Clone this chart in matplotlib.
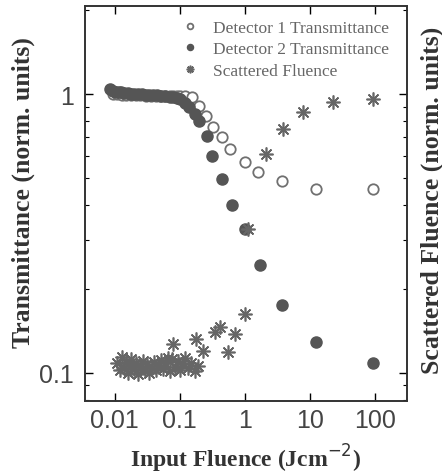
import numpy as np
import matplotlib
matplotlib.use('Agg')
import matplotlib.pyplot as plt

# Detector 1 transmittance (open circles)
det1_x = [0.0095, 0.011, 0.013, 0.015, 0.018, 0.021, 0.025, 0.03, 0.036, 0.043, 0.05,
          0.06, 0.07, 0.08, 0.09, 0.1, 0.12, 0.153, 0.196, 0.251, 0.32, 0.44, 0.59, 1.0,
          1.58, 3.7, 12.6, 93]
det1_y = [1.0, 1.0, 0.995, 0.995, 0.99, 0.99, 0.99, 0.985, 0.985, 0.985, 0.985,
          0.985, 0.985, 0.985, 0.985, 0.985, 0.985, 0.976, 0.906, 0.834, 0.762, 0.70, 0.635, 0.57,
          0.525, 0.488, 0.457, 0.457]

# Detector 2 transmittance (filled circles)
det2_x = [0.0085, 0.0095, 0.0105, 0.0115, 0.0125, 0.014, 0.016, 0.018, 0.02, 0.023,
          0.026, 0.03, 0.034, 0.039, 0.045, 0.052, 0.06, 0.07, 0.08, 0.09, 0.1, 0.12,
          0.14, 0.17, 0.2, 0.26, 0.31, 0.44, 0.63, 1.0, 1.7, 3.7, 12.6, 93]
det2_y = [1.04, 1.03, 1.02, 1.02, 1.015, 1.01, 1.01, 1.005, 1.0, 1.0,
          1.0, 0.995, 0.995, 0.99, 0.99, 0.985, 0.985, 0.98, 0.975, 0.97, 0.96, 0.93,
          0.9, 0.85, 0.8, 0.707, 0.60, 0.496, 0.40, 0.328, 0.244, 0.175, 0.129, 0.108]

# Scattered fluence (asterisks)
scat_x = [0.011, 0.012, 0.013, 0.014, 0.015, 0.016, 0.017, 0.018, 0.02, 0.021, 0.023,
          0.025, 0.027, 0.029, 0.031, 0.034, 0.037, 0.04, 0.043, 0.047, 0.051, 0.055,
          0.06, 0.065, 0.07, 0.077, 0.085, 0.093, 0.1, 0.11, 0.12, 0.135, 0.15, 0.17,
          0.19, 0.078, 0.18, 0.23, 0.35, 0.41, 0.55, 0.70, 1.0, 1.11, 2.1, 3.85, 7.8,
          22.6, 93]
scat_y = [0.108, 0.102, 0.114, 0.104, 0.109, 0.100, 0.106, 0.112, 0.103, 0.108, 0.099,
          0.105, 0.110, 0.102, 0.107, 0.100, 0.104, 0.109, 0.102, 0.106, 0.111, 0.103,
          0.108, 0.113, 0.101, 0.112, 0.105, 0.110, 0.102, 0.107, 0.113, 0.104, 0.108,
          0.101, 0.106, 0.127, 0.132, 0.12, 0.14, 0.146, 0.119, 0.138, 0.163, 0.328,
          0.61, 0.75, 0.86, 0.936, 0.96]

fig = plt.figure(figsize=(4.42, 4.77), dpi=100)
ax = fig.add_axes([0.192, 0.157, 0.729, 0.828])
ax2 = ax.twinx()

gray = '#555555'
ax.plot(det1_x, det1_y, 'o', mfc='white', mec='#707070', mew=1.3, ms=7.5,
        linestyle='none', label='Detector 1 Transmittance', zorder=2)
ax.plot(det2_x, det2_y, 'o', mfc=gray, mec=gray, ms=8,
        linestyle='none', label='Detector 2 Transmittance', zorder=3)
ax2.plot(scat_x, scat_y, marker=(8, 2, 0), color='#666666', mew=1.2, ms=10,
         linestyle='none', label='Scattered Fluence')

for a in (ax, ax2):
    a.set_xscale('log')
    a.set_yscale('log')
    a.set_xlim(0.0035, 310)
    a.set_ylim(0.079, 2.07)

ax.set_xticks([0.01, 0.1, 1, 10, 100])
ax.set_xticklabels(['0.01', '0.1', '1', '10', '100'])
ax.set_yticks([0.1, 1])
ax.set_yticklabels(['0.1', '1'])
ax2.set_yticks([0.1, 1])
ax2.set_yticklabels([])
ax2.yaxis.set_minor_formatter(plt.NullFormatter())

ax.tick_params(which='both', direction='in', top=True, labelsize=18,
               labelfontfamily='Liberation Sans', labelcolor='#444444')
ax.tick_params(axis='x', which='major', pad=5)
ax.tick_params(axis='y', which='major', pad=8)
ax.tick_params(which='major', length=6, width=1)
ax.tick_params(which='minor', length=3, width=0.8)
ax2.tick_params(which='major', direction='in', length=6, width=1)
ax2.tick_params(which='minor', direction='in', length=3, width=0.8)

for a in (ax, ax2):
    for s in a.spines.values():
        s.set_linewidth(1.2)
        s.set_color('#333333')

lab_font = dict(family='Liberation Serif', weight='bold', color='#333333')
fig.text(0.555, 0.038, 'Input Fluence (Jcm$^{-2}$)', ha='center', va='center',
         size=17, **lab_font)
fig.text(0.052, 0.597, 'Transmittance (norm. units)', rotation=90,
         ha='center', va='center', size=18.5, **lab_font)
fig.text(0.977, 0.58, 'Scattered Fluence (norm. units)', rotation=90,
         ha='center', va='center', size=18.5, **lab_font)

h1, l1 = ax.get_legend_handles_labels()
h2, l2 = ax2.get_legend_handles_labels()
ax2.legend(h1 + h2, l1 + l2, loc='upper left', bbox_to_anchor=(0.295, 0.965),
           frameon=False, prop={'family': 'Liberation Serif', 'size': 12.5},
           markerscale=0.55, handlelength=1.2, handletextpad=0.7,
           borderaxespad=0, borderpad=0, labelspacing=0.3, labelcolor='#666666')

fig.savefig('out.png', dpi=100)
